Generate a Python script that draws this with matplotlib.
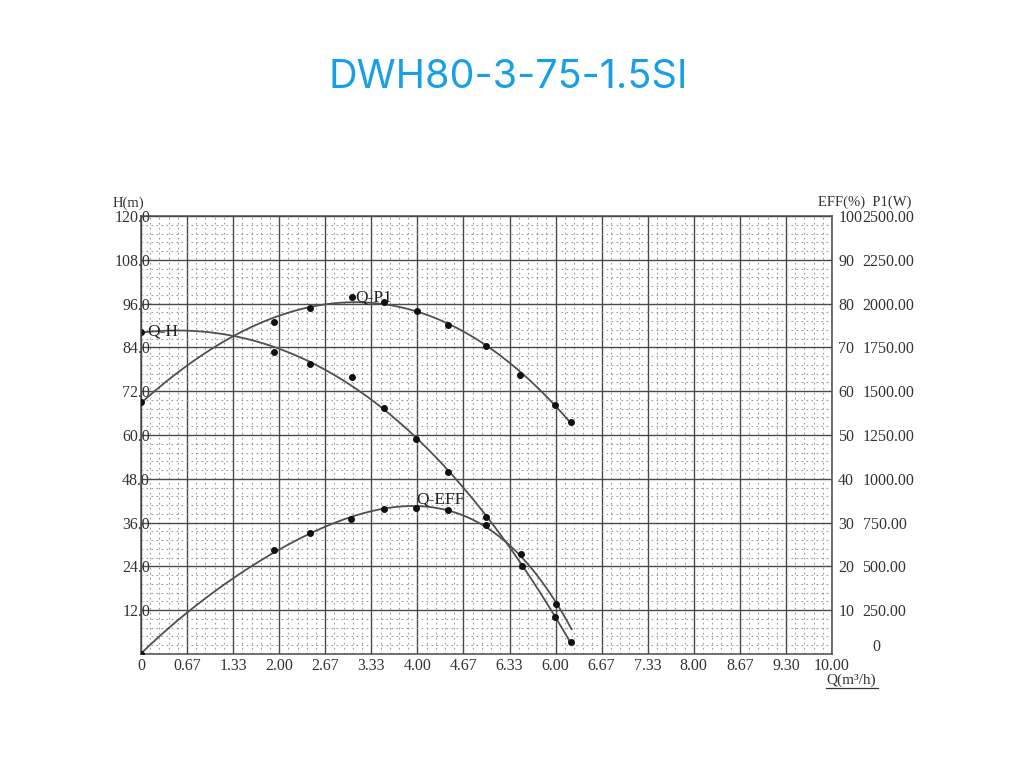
import numpy as np
import matplotlib
matplotlib.use("Agg")
import matplotlib.pyplot as plt
from matplotlib.lines import Line2D
from matplotlib.ticker import MultipleLocator

q_h = [0.0, 1.93, 2.44, 3.05, 3.52, 3.98, 4.45, 4.99, 5.51, 5.99, 6.23]
h_vals = [88.3, 82.8, 79.5, 75.8, 67.4, 58.9, 49.9, 37.5, 24.1, 10.1, 3.3]

q_eff = [0.0, 1.93, 2.44, 3.04, 3.52, 3.98, 4.44, 4.99, 5.50, 6.00]
eff_vals = [0.0, 23.7, 27.6, 30.8, 33.0, 33.4, 32.9, 29.4, 22.8, 11.4]

q_p1 = [0.0, 1.93, 2.44, 3.05, 3.52, 3.99, 4.45, 4.99, 5.49, 5.99, 6.23]
p1_vals = [1437, 1896, 1977, 2036, 2007, 1958, 1877, 1758, 1592, 1419, 1326]

q_end = 6.23

x_ticks = ["0", "0.67", "1.33", "2.00", "2.67", "3.33", "4.00", "4.67",
           "6.33", "6.00", "6.67", "7.33", "8.00", "8.67", "9.30", "10.00"]
h_ticks = [12, 24, 36, 48, 60, 72, 84, 96, 108, 120]
eff_ticks = [10, 20, 30, 40, 50, 60, 70, 80, 90, 100]
p1_ticks = [250, 500, 750, 1000, 1250, 1500, 1750, 2000, 2250, 2500]

TICK_FONT = "Liberation Serif"
LINE_C = "#505050"
GRID_C = "#4a4a4a"

fig = plt.figure(figsize=(10.16, 7.62), dpi=100, facecolor="white")
ax = fig.add_axes([141 / 1016, 108 / 762, 691 / 1016, 438 / 762])
ax.set_xlim(0, 10)
ax.set_ylim(0, 120)

# grid: major lines + dotted minor subdivisions
ax.xaxis.set_major_locator(MultipleLocator(10 / 15))
ax.xaxis.set_minor_locator(MultipleLocator(10 / 75))
ax.yaxis.set_major_locator(MultipleLocator(12))
ax.yaxis.set_minor_locator(MultipleLocator(2.4))
ax.grid(which="major", color=GRID_C, lw=1.0)
ax.grid(which="minor", color="#9a9a9a", lw=0.8, linestyle=(0, (1.5, 3)))
ax.set_axisbelow(True)
for s in ax.spines.values():
    s.set_color(GRID_C)
    s.set_linewidth(1.1)

ax.set_xticks([i * 10 / 15 for i in range(16)])
ax.set_xticklabels(x_ticks, fontfamily=TICK_FONT, fontsize=11.5, color="#333")
ax.set_yticks(h_ticks)
ax.set_yticklabels([f"{v:.1f}" for v in h_ticks], fontfamily=TICK_FONT,
                   fontsize=11.5, color="#333")
ax.tick_params(which="both", length=0)
ax.tick_params(axis="x", pad=3)
ax.tick_params(axis="y", pad=-6.5)

ax_eff = ax.twinx()
ax_eff.set_ylim(0, 100)
ax_eff.set_yticks(eff_ticks)
ax_eff.set_yticklabels([str(v) for v in eff_ticks], fontfamily=TICK_FONT,
                       fontsize=11.5, color="#333", ha="left")
ax_eff.tick_params(length=0, pad=4.5)

ax_p1 = ax.twinx()
ax_p1.set_ylim(0, 2500)
ax_p1.set_yticks(p1_ticks)
ax_p1.set_yticklabels([f"{v:.2f}" for v in p1_ticks], fontfamily=TICK_FONT,
                      fontsize=11.5, color="#333", ha="left")
ax_p1.tick_params(length=0, pad=22)
for a in (ax_eff, ax_p1):
    for s in a.spines.values():
        s.set_visible(False)

# fitted curves through the measured points
qq = np.linspace(0, q_end, 200)
h_fit = np.polyval(np.polyfit(q_h, h_vals, 3), qq)
# efficiency: blend of cubic and quartic fits (straighter start, steeper end)
eff_fit = 0.5 * (np.polyval(np.polyfit(q_eff, eff_vals, 3), qq)
                 + np.polyval(np.polyfit(q_eff, eff_vals, 4), qq))
p1_fit = np.polyval(np.polyfit(q_p1, p1_vals, 3), qq)

ax.plot(qq, h_fit, color=LINE_C, lw=1.3)
ax.plot(q_h, h_vals, "o", color="#111", ms=4)
ax_eff.plot(qq, eff_fit, color=LINE_C, lw=1.3)
ax_eff.plot(q_eff, eff_vals, "o", color="#111", ms=4)
ax_p1.plot(qq, p1_fit, color=LINE_C, lw=1.3)
ax_p1.plot(q_p1, p1_vals, "o", color="#111", ms=4)

lab = dict(fontfamily=TICK_FONT, fontsize=12.5, color="#222", va="center")
ax.text(0.09, 88.3, "Q-H", **lab)
ax_p1.text(3.1, 2036, "Q-P1", **lab)
ax_eff.text(3.98, 35.2, "Q-EFF", **lab)

# axis captions
small = dict(fontfamily=TICK_FONT, fontsize=10.5, color="#333")
fig.text(113 / 1016, 1 - 203 / 762, "H(m)", va="center", **small)
fig.text(818 / 1016, 1 - 202 / 762, "EFF(%)  P1(W)", va="center", **small)
fig.text(876 / 1016, 1 - 647 / 762, "0", va="center", ha="center",
         fontfamily=TICK_FONT, fontsize=11.5, color="#333")
fig.text(826 / 1016, 1 - 680 / 762, "Q(m³/h)", va="center",
         fontfamily=TICK_FONT, fontsize=11, color="#333")
fig.add_artist(Line2D([826 / 1016, 878 / 1016], [1 - 688 / 762, 1 - 688 / 762],
                      color="#333", lw=0.9))

fig.text(0.5, 1 - 78 / 762, "DWH80-3-75-1.5SI", ha="center", va="center",
         fontfamily="Inter", fontsize=28.5, color="#1a9fe6")

fig.savefig("out.png", dpi=100, facecolor="white")
